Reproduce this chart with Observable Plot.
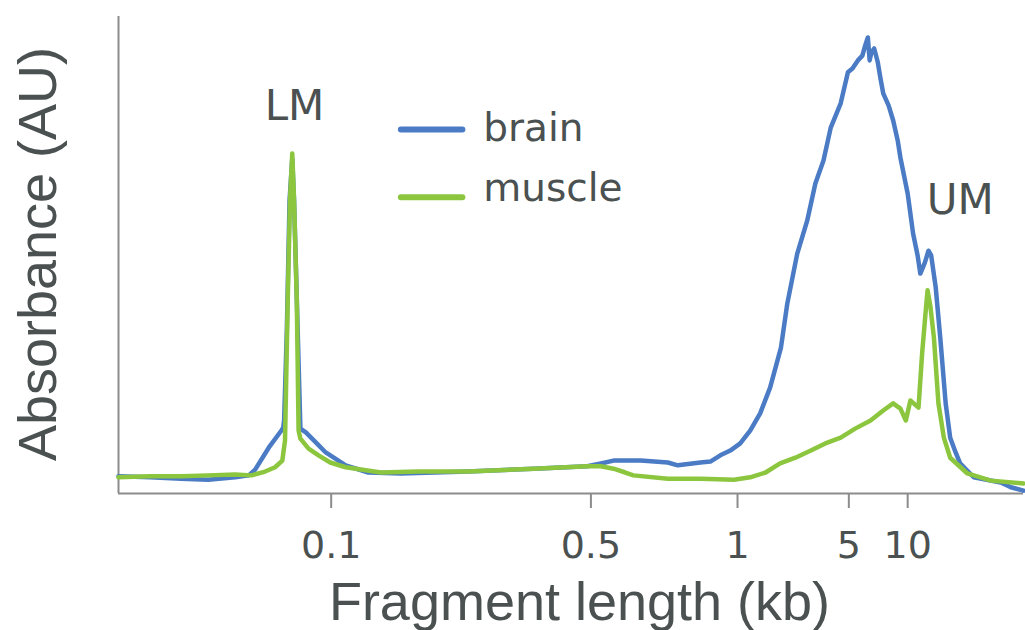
<!DOCTYPE html>
<html><head><meta charset="utf-8">
<script src="https://cdn.jsdelivr.net/npm/d3@7"></script>
<script src="https://cdn.jsdelivr.net/npm/@observablehq/plot@0.6"></script>
<style>html,body{margin:0;padding:0;background:#fff;} #chart svg{display:block}</style>
</head><body><div id="chart"></div>
<script>
// x: migration position (arbitrary units, 0–100), y: absorbance (AU, 0–100)
const series = ["brain", "muscle"];
const colors = ["#4a7bc4", "#8cc63f"];
const tickKb = ["0.1", "0.5", "1", "5", "10"];
const tickPos = [23.5, 52.2, 68.4, 80.7, 87.2];

const brain = [[0,3.6],[3.5,3.4],[6.9,3.1],[9.9,2.9],[12.9,3.4],[14.4,3.8],[15.1,5.0],[16.6,9.6],[18.0,13.2],[18.2,13.8],[18.3,15.3],[18.6,34.2],[18.9,61.4],[19.2,70.2],[19.4,61.4],[19.8,34.2],[20.1,13.6],[20.7,12.8],[21.8,10.7],[22.9,8.6],[25.1,5.9],[27.6,4.4],[31.2,4.2],[38.6,4.6],[45.9,5.2],[51.8,5.7],[53.3,6.3],[54.7,6.9],[57.7,6.9],[60.7,6.5],[61.8,5.9],[64.3,6.5],[65.4,6.7],[66.5,8.0],[67.6,9.0],[68.7,10.5],[69.8,13.2],[70.9,16.8],[72.0,22.2],[73.2,30.6],[73.9,39.8],[75.0,50.3],[76.1,57.2],[77.0,65.0],[77.9,69.8],[78.7,76.7],[79.8,81.8],[80.6,88.3],[81.1,89.1],[81.7,90.8],[82.2,91.8],[82.5,93.9],[82.8,95.6],[83.0,90.8],[83.2,92.5],[83.5,93.3],[83.9,90.4],[84.2,87.0],[84.5,83.9],[85.1,81.3],[85.6,78.2],[86.1,74.0],[86.4,70.4],[87.2,62.9],[87.8,54.5],[88.3,49.9],[88.6,46.1],[89.1,48.4],[89.5,50.9],[89.8,49.9],[90.3,43.2],[90.8,32.7],[91.4,18.9],[91.9,11.7],[92.5,8.6],[93.0,6.3],[94.5,3.4],[97.5,2.3],[98.6,1.3],[100,0.6]];

const muscle = [[0,3.4],[3.5,3.6],[6.9,3.6],[9.9,3.8],[12.9,4.0],[14.7,3.8],[16.2,4.6],[17.3,5.5],[18.1,6.9],[18.4,11.1],[18.7,40.5],[18.95,61.4],[19.2,71.3],[19.4,61.4],[19.7,40.5],[19.9,13.2],[20.1,11.5],[21.0,9.4],[22.1,8.0],[23.4,6.5],[25.1,5.5],[29.0,4.4],[33.1,4.6],[38.6,4.6],[45.9,5.2],[51.8,5.7],[53.3,5.7],[54.7,5.2],[56.0,4.4],[56.9,3.8],[60.7,3.1],[64.3,3.1],[68.0,2.9],[69.8,3.4],[71.5,4.4],[73.1,6.3],[74.8,7.5],[76.5,9.0],[78.1,10.5],[79.8,11.7],[81.4,13.6],[83.1,15.3],[84.5,17.4],[85.6,18.9],[86.4,17.8],[87.0,15.3],[87.5,19.5],[88.4,18.0],[88.8,29.4],[89.2,38.4],[89.4,42.6],[89.7,39.4],[90.1,32.7],[90.6,18.9],[91.2,11.7],[91.9,7.5],[93.8,4.2],[96.4,2.7],[100,2.1]];

const markers = ["LM", "UM"];
const markerX = [19.45, 93.0];
const markerY = [78.2, 58.7];

const textColor = "#4a5150";
const axisColor = "#8c8c8c";

const rows = [
  ...brain.map(([x, y]) => ({series: "brain", x, y})),
  ...muscle.map(([x, y]) => ({series: "muscle", x, y}))
];
const tickLabel = new Map(tickPos.map((p, i) => [p, tickKb[i]]));
const markerRows = markers.map((m, i) => ({label: m, x: markerX[i], y: markerY[i]}));
const legendRows = series.map((s, i) => ({series: s, x1: 31.2, x2: 38.0, y: i ? 62.1 : 76.3, tx: 40.3, ty: i ? 61.4 : 74.0}));

const plot = Plot.plot({
  width: 1025, height: 630,
  marginLeft: 118, marginRight: 2, marginTop: 16, marginBottom: 137,
  style: {fontFamily: "Liberation Sans, Arial, sans-serif", color: textColor, background: "#fff"},
  x: {domain: [0, 100]},
  y: {domain: [0, 100], axis: null},
  color: {domain: series, range: colors},
  marks: [
    Plot.ruleY([0], {stroke: axisColor, strokeWidth: 2}),
    Plot.ruleX([0], {stroke: axisColor, strokeWidth: 2}),
    Plot.axisX({ticks: tickPos, tickFormat: d => tickLabel.get(d), tickSize: 15, tickPadding: 23,
      fontSize: 38, fontFamily: "DejaVu Sans", stroke: axisColor, strokeWidth: 2, fill: textColor, label: null}),
    Plot.line(rows, {x: "x", y: "y", z: "series", stroke: "series", strokeWidth: 4.5, strokeLinejoin: "round", strokeLinecap: "round"}),
    Plot.link(legendRows, {x1: "x1", x2: "x2", y1: "y", y2: "y", stroke: "series", strokeWidth: 6, strokeLinecap: "round"}),
    Plot.text(legendRows, {x: "tx", y: "ty", text: "series", textAnchor: "start", lineAnchor: "bottom", fontSize: 39, fontFamily: "DejaVu Sans", fill: textColor}),
    Plot.text(markerRows, {x: "x", y: "y", text: "label", textAnchor: "middle", lineAnchor: "bottom", fontSize: 42, fontFamily: "DejaVu Sans", fill: textColor}),
    Plot.text(["Fragment length (kb)"], {frameAnchor: "bottom", textAnchor: "middle", lineAnchor: "bottom", dy: 126, dx: 8.5, fontSize: 54, fill: textColor}),
    Plot.text(["Absorbance (AU)"], {frameAnchor: "left", textAnchor: "middle", rotate: -90, lineAnchor: "bottom", dx: -63, dy: -1, fontSize: 54, fill: textColor})
  ]
});
document.getElementById("chart").appendChild(plot);
</script>
</body></html>
